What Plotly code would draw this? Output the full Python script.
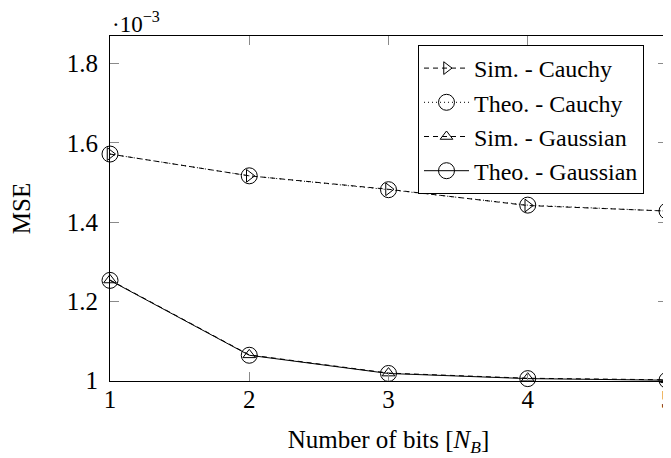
import plotly.graph_objects as go

# Data (MSE values in units of 1e-3)
n_bits = [1, 2, 3, 4, 5]
sim_cauchy = [1.572, 1.517, 1.483, 1.442, 1.428]
theo_cauchy = [1.572, 1.517, 1.482, 1.443, 1.428]
sim_gauss = [1.254, 1.065, 1.019, 1.006, 1.002]
theo_gauss = [1.253, 1.064, 1.018, 1.005, 1.001]
y_ticks = [1.0, 1.2, 1.4, 1.6, 1.8]
y_ticktext = ["1", "1.2", "1.4", "1.6", "1.8"]
x_ticks = [1, 2, 3, 4, 5]

FONT = "Liberation Serif"
OFF = 8  # page body margin in the browser
W, H = 671 - OFF, 458 - OFF
L, R, T, B = 110 - OFF, 4, 36 - OFF, 77

fig = go.Figure()
fig.add_trace(go.Scatter(
    x=n_bits, y=sim_cauchy, name="Sim. - Cauchy", mode="lines+markers",
    line=dict(color="black", width=1, dash="5px,4px"),
    marker=dict(symbol="triangle-right-open", size=11, color="black", line=dict(width=1)),
    cliponaxis=False))
fig.add_trace(go.Scatter(
    x=n_bits, y=theo_cauchy, name="Theo. - Cauchy", mode="lines+markers",
    line=dict(color="black", width=1, dash="1px,3px"),
    marker=dict(symbol="circle-open", size=16, color="black", line=dict(width=1)),
    cliponaxis=False))
fig.add_trace(go.Scatter(
    x=n_bits, y=sim_gauss, name="Sim. - Gaussian", mode="lines+markers",
    line=dict(color="black", width=1, dash="5px,4px"),
    marker=dict(symbol="triangle-up-open", size=11, color="black", line=dict(width=1)),
    cliponaxis=False))
fig.add_trace(go.Scatter(
    x=n_bits, y=theo_gauss, name="Theo. - Gaussian", mode="lines+markers",
    line=dict(color="black", width=1),
    marker=dict(symbol="circle-open", size=16, color="black", line=dict(width=1)),
    cliponaxis=False))

ph = H - T - B
pw = W - L - R
fig.update_layout(
    width=W, height=H,
    margin=dict(l=L, r=R, t=T, b=B, pad=0, autoexpand=False),
    paper_bgcolor="white", plot_bgcolor="white",
    font=dict(family=FONT, size=24, color="black"),
    showlegend=True,
    legend=dict(
        x=(644 - 110) / pw, y=(381 - 45) / ph, xanchor="right", yanchor="top",
        bgcolor="white", bordercolor="black", borderwidth=1,
        font=dict(family=FONT, size=24, color="black"),
        tracegroupgap=0, itemwidth=45,
    ),
    xaxis=dict(
        range=[1, 5], tickvals=x_ticks, showgrid=False, zeroline=False,
        showline=True, linecolor="black", linewidth=1, mirror="ticks",
        ticks="inside", ticklen=9, tickcolor="#8a8a8a", tickwidth=1,
        tickfont=dict(family=FONT, size=25), automargin=False,
        ticklabeloverflow="allow", ticklabelstandoff=-4,
        title=dict(text="Number of bits [<i>N</i><sub><i>B</i></sub>]",
                   font=dict(family=FONT, size=25), standoff=18),
    ),
    yaxis=dict(
        range=[0.999, 1.87], tickvals=y_ticks, ticktext=y_ticktext,
        showgrid=False, zeroline=False,
        showline=True, linecolor="black", linewidth=1, mirror="ticks",
        ticks="inside", ticklen=9, tickcolor="#8a8a8a", tickwidth=1,
        tickfont=dict(family=FONT, size=25), ticklabelstandoff=6, automargin=False,
        title=dict(text="MSE", font=dict(family=FONT, size=25), standoff=39),
    ),
    annotations=[dict(
        xref="paper", yref="paper", x=0, y=(ph + 13) / ph,
        xanchor="left", yanchor="middle", showarrow=False,
        text="·10<sup>−3</sup>", font=dict(family=FONT, size=23, color="black"),
    )],
)

fig.write_html("out.html")
